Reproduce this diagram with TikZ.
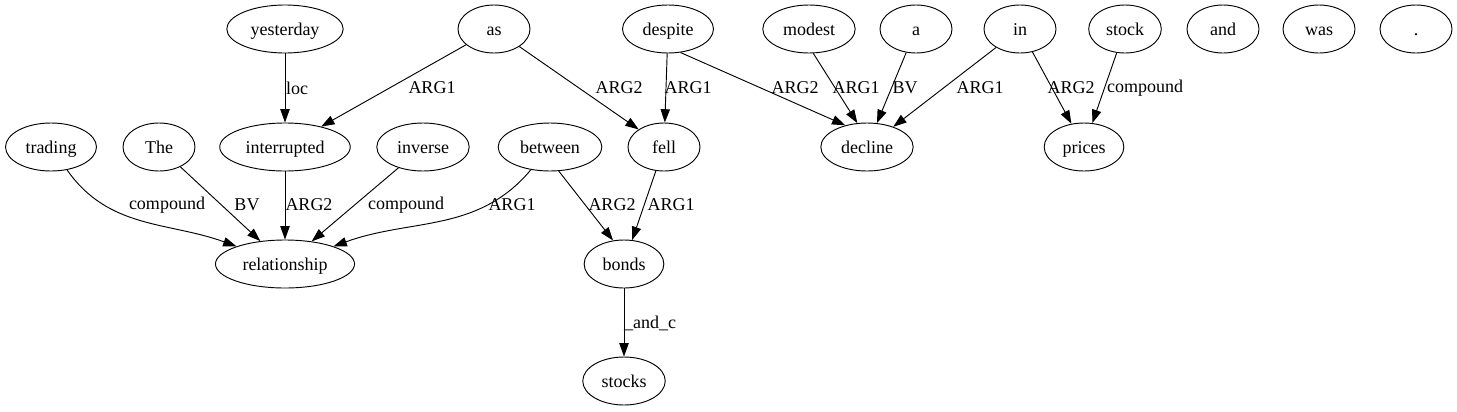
\documentclass[tikz,border=0pt]{standalone}
\usepackage{fontspec}
\setmainfont{Liberation Serif}
\usetikzlibrary{shapes.geometric,arrows.meta}

\begin{document}
\begin{tikzpicture}[x=0.75pt,y=0.75pt,line width=0.7pt,
  word/.style={ellipse,draw,inner xsep=5pt,inner ysep=2pt,text height=12pt,text depth=3pt,minimum width=54pt,minimum height=36pt,font=\fontsize{13.5}{16}\selectfont},
  rel/.style={-{Triangle[length=10pt,width=7pt]}},
  lab/.style={font=\fontsize{13.5}{16}\selectfont}]
  \useasboundingbox (0,0) rectangle (1457,-411);
  % top row
  \node[word] (yesterday) at (285,-29) {yesterday};
  \node[word] (as) at (494,-29) {as};
  \node[word] (despite) at (668,-29) {despite};
  \node[word] (modest) at (809,-29) {modest};
  \node[word] (a) at (916,-29) {a};
  \node[word] (in) at (1020,-29) {in};
  \node[word] (stock) at (1125,-29) {stock};
  \node[word] (and) at (1223,-29) {and};
  \node[word] (was) at (1319,-29) {was};
  \node[word] (dot) at (1416,-29) {.};
  % second row
  \node[word] (trading) at (51,-147) {trading};
  \node[word] (the) at (159,-147) {The};
  \node[word] (interrupted) at (285,-147) {interrupted};
  \node[word] (inverse) at (423,-147) {inverse};
  \node[word] (between) at (550,-147) {between};
  \node[word] (fell) at (664,-147) {fell};
  \node[word] (decline) at (867,-147) {decline};
  \node[word] (prices) at (1084,-147) {prices};
  % lower rows
  \node[word] (relationship) at (285,-264) {relationship};
  \node[word] (bonds) at (624,-264) {bonds};
  \node[word] (stocks) at (624,-381) {stocks};

  %edges into the second row
  \draw[rel] (yesterday) -- (interrupted) node[lab] at (297,-88) {loc};
  \draw[rel] (as) -- (interrupted) node[lab] at (432,-88) {ARG1};
  \draw[rel] (as) -- (fell) node[lab] at (619,-88) {ARG2};
  \draw[rel] (despite) -- (fell) node[lab] at (688,-88) {ARG1};
  \draw[rel] (despite.-62) -- (decline.135) node[lab] at (795,-88) {ARG2};
  \draw[rel] (modest.-80) -- (decline.112) node[lab] at (856,-88) {ARG1};
  \draw[rel] (a) -- (decline) node[lab] at (905,-88) {BV};
  \draw[rel] (in) -- (decline) node[lab] at (980,-88) {ARG1};
  \draw[rel] (in) -- (prices) node[lab] at (1071,-88) {ARG2};
  \draw[rel] (stock) -- (prices) node[lab] at (1145,-88) {compound};
  %edges into the third row
  \draw[rel] (trading) to[out=-55,in=160] (relationship) node[lab] at (167,-205) {compound};
  \draw[rel] (the) -- (relationship) node[lab] at (247,-205) {BV};
  \draw[rel] (interrupted) -- (relationship) node[lab] at (309,-205) {ARG2};
  \draw[rel] (inverse) -- (relationship) node[lab] at (406,-205) {compound};
  \draw[rel] (between) to[out=-130,in=20] (relationship) node[lab] at (512,-205) {ARG1};
  \draw[rel] (between.-70) -- (bonds.115) node[lab] at (612,-205) {ARG2};
  \draw[rel] (fell) -- (bonds) node[lab] at (671,-205) {ARG1};
  \draw[rel] (bonds) -- (stocks) node[lab] at (650,-323) {\_and\_c};
\end{tikzpicture}
\end{document}
